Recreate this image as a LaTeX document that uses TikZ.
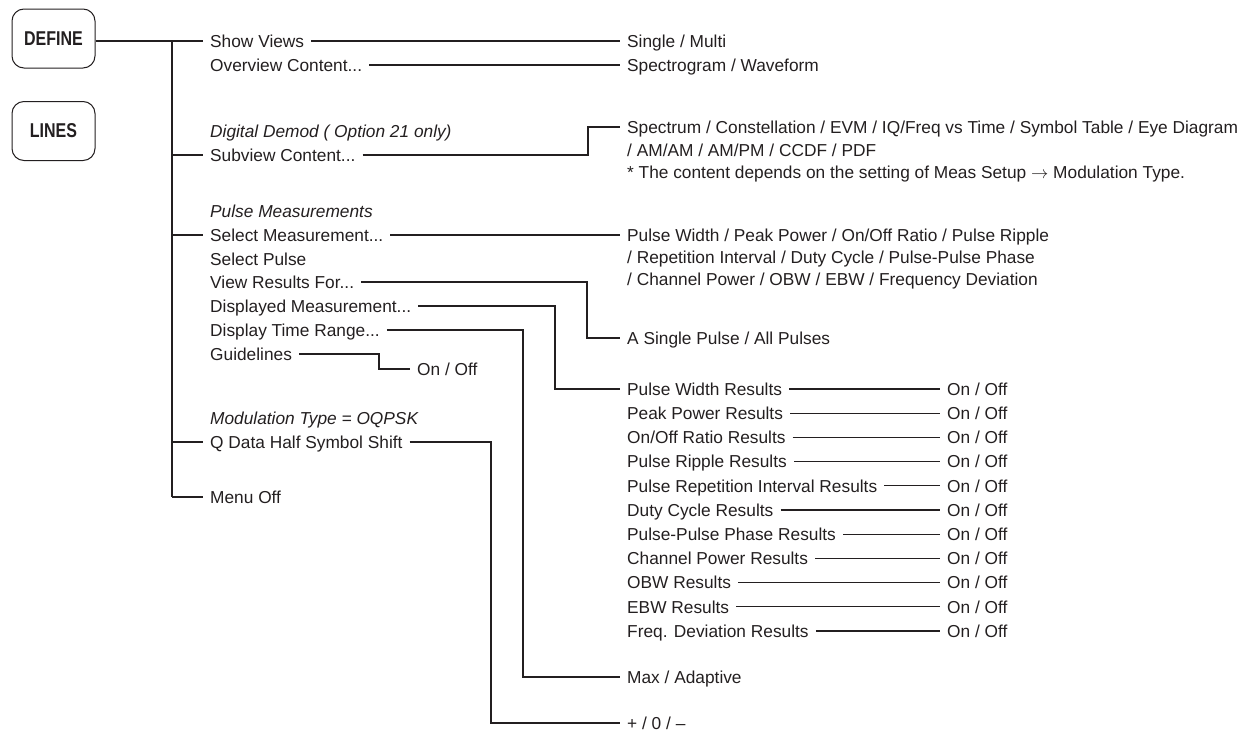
\documentclass[tikz,border=0pt]{standalone}
\usepackage{fontspec}
\setmainfont{Liberation Sans}
\newfontfamily\keyfont[FakeStretch=0.8]{Liberation Sans}
\usetikzlibrary{calc}
\definecolor{ink}{RGB}{35,31,32}

\begin{document}
\begin{tikzpicture}[x=1pt,y=-1pt,
  item/.style={anchor=west,inner xsep=7pt,inner ysep=0pt,text height=12.5pt,text depth=0pt,
    text=ink,font=\fontsize{17.3}{20}\selectfont},
  note/.style={item,font=\fontsize{17.3}{20}\selectfont\itshape},
  key/.style={draw=ink,line width=1pt,rounded corners=12pt,minimum width=83pt,minimum height=59pt,
    text=ink,font=\keyfont\bfseries\fontsize{20}{24}\selectfont},
  wire/.style={draw=ink,line width=1.1pt}]
  \useasboundingbox (0,0) rectangle (1251,734);

  % front panel keys
  \node[key] (Def) at (53.5,38.5) {DEFINE};
  \node[key] (Lines) at (53.5,131) {LINES};

  % first level menu
  \node[item] (ShowV) at (203,41) {Show Views};
  \node[item] (OverC) at (203,65) {Overview Content...};
  \node[note] (DigD) at (203,131) {Digital Demod ( Option 21 only)};
  \node[item] (SubC) at (203,155) {Subview Content...};
  \node[note] (PulseM) at (203,211) {Pulse Measurements};
  \node[item] (SelM) at (203,235) {Select Measurement...};
  \node[item] (SelP) at (203,259) {Select Pulse};
  \node[item] (ViewR) at (203,282) {View Results For...};
  \node[item] (DispM) at (203,306) {Displayed Measurement...};
  \node[item] (DispT) at (203,330) {Display Time Range...};
  \node[item] (Guide) at (203,354) {Guidelines};
  \node[note] (ModT) at (203,418) {Modulation Type = OQPSK};
  \node[item] (QData) at (203,442) {Q Data Half Symbol Shift};
  \node[item] (MenuOff) at (203,497) {Menu Off};

  % second level
  \node[item] (SingleM) at (620,41) {Single / Multi};
  \node[item] (SpecW) at (620,65) {Spectrogram / Waveform};
  \node[item] (Spec) at (620,127) {Spectrum / Constellation / EVM / IQ/Freq vs Time / Symbol Table / Eye Diagram};
  \node[item] (SpecB) at (620,150) {/ AM/AM / AM/PM / CCDF / PDF};
  \node[item] (SpecN) at (620,172) {* The content depends on the setting of Meas Setup $\rightarrow$ Modulation Type.};
  \node[item] (MeasA) at (620,235) {Pulse Width / Peak Power / On/Off Ratio / Pulse Ripple};
  \node[item] (MeasB) at (620,257) {/ Repetition Interval / Duty Cycle / Pulse-Pulse Phase};
  \node[item] (MeasC) at (620,279) {/ Channel Power / OBW / EBW / Frequency Deviation};
  \node[item] (SglP) at (620,338) {A Single Pulse / All Pulses};
  \node[item] (MaxA) at (620,677) {Max / Adaptive};
  \node[item] (PlusM) at (620,723) {+ / 0 / --};
  \node[item] (GOnOff) at (410,369) {On / Off};

  % results list with On / Off
  \foreach \lbl [count=\i from 0] in {Pulse Width Results,Peak Power Results,{On/Off Ratio Results},
      Pulse Ripple Results,Pulse Repetition Interval Results,Duty Cycle Results,
      Pulse-Pulse Phase Results,Channel Power Results,OBW Results,EBW Results,
      Freq. Deviation Results}{
    \node[item] (R\i) at (620,389+24.2*\i) {\lbl};
    \node[item] (O\i) at (940,389+24.2*\i) {On / Off};
    \draw[wire] (R\i.east) -- (O\i.west);
  }

  % trunk and branches
  \coordinate (Trunk) at (172,0);
  \draw[wire] (Def.east |- ShowV.west) -- (ShowV.west);
  \draw[wire] (Trunk |- ShowV.west) -- (Trunk |- MenuOff.west);
  \foreach \n in {SubC,SelM,QData,MenuOff}
    \draw[wire] (Trunk |- \n.west) -- (\n.west);

  % straight links
  \draw[wire] (ShowV.east) -- (SingleM.west);
  \draw[wire] (OverC.east) -- (SpecW.west);
  \draw[wire] (SelM.east) -- (MeasA.west);

  % elbow links
  \draw[wire] (SubC.east) -- (SubC.east -| 588,0) |- (Spec.west);
  \draw[wire] (ViewR.east) -- (ViewR.east -| 587,0) |- (SglP.west);
  \draw[wire] (DispM.east) -- (DispM.east -| 555,0) |- (R0.west);
  \draw[wire] (DispT.east) -- (DispT.east -| 523,0) |- (MaxA.west);
  \draw[wire] (QData.east) -- (QData.east -| 491,0) |- (PlusM.west);
  \draw[wire] (Guide.east) -- (Guide.east -| 379,0) |- (GOnOff.west);
\end{tikzpicture}
\end{document}
